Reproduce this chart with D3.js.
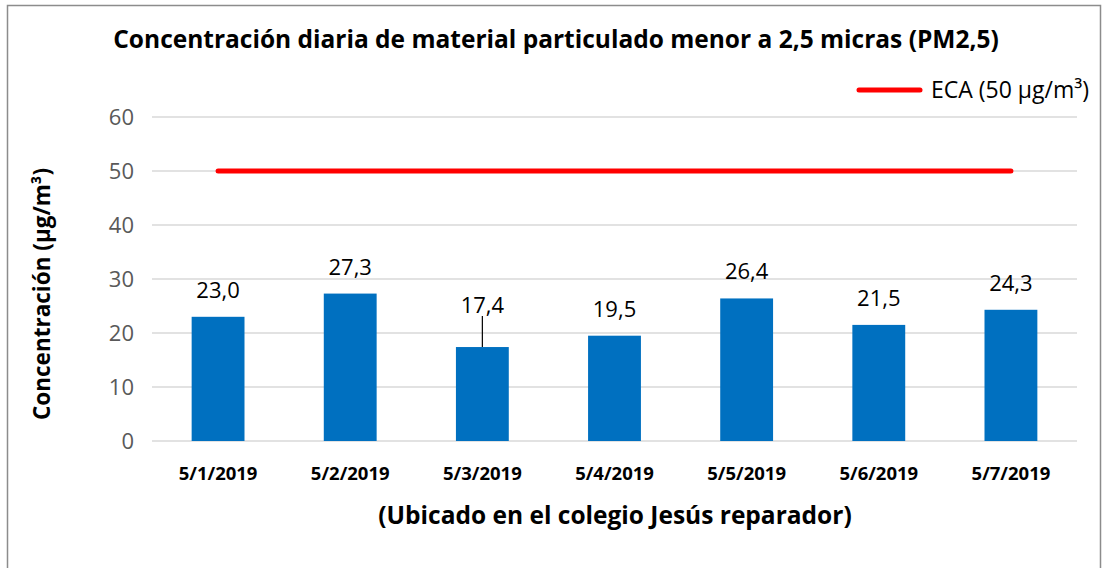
<!DOCTYPE html>
<html>
<head>
<meta charset="utf-8">
<script src="https://cdn.jsdelivr.net/npm/d3@7"></script>
<style>
  body { margin: 0; background: #fff; }
  svg { font-family: "Open Sans", "Noto Sans", sans-serif; }
</style>
</head>
<body>
<svg id="chart" width="1105" height="568"></svg>
<script>
// data
const dates = ["5/1/2019", "5/2/2019", "5/3/2019", "5/4/2019", "5/5/2019", "5/6/2019", "5/7/2019"];
const pm25 = [23.0, 27.3, 17.4, 19.5, 26.4, 21.5, 24.3];
const eca = [50, 50, 50, 50, 50, 50, 50];
const yTicks = [0, 10, 20, 30, 40, 50, 60];

const svg = d3.select("#chart");
const margin = { top: 117, left: 152, right: 28, bottom: 127 };
const width = 1105, height = 568;
const innerWidth = width - margin.left - margin.right;
const innerHeight = height - margin.top - margin.bottom;

// chart border (bottom edge is below the picture)
svg.append("path")
    .attr("d", "M7.5,568 V5.5 H1100.5 V568")
    .attr("fill", "none")
    .attr("stroke", "#8c8c8c")
    .attr("stroke-width", 1.5);

const g = svg.append("g").attr("transform", `translate(${margin.left}, ${margin.top})`);

const xScale = d3.scaleBand()
    .domain(dates)
    .range([0, innerWidth])
    .paddingInner(0.6)
    .paddingOuter(0.3);

const yScale = d3.scaleLinear()
    .domain([0, 60])
    .range([innerHeight, 0]);

// gridlines
g.append("g")
    .selectAll("line")
    .data(yTicks)
    .enter()
    .append("line")
    .attr("x1", 0).attr("x2", innerWidth)
    .attr("y1", d => yScale(d)).attr("y2", d => yScale(d))
    .attr("stroke", "#d9d9d9")
    .attr("stroke-width", 1.5);

// Y-axis labels
const yAxis = g.append("g")
    .call(d3.axisLeft(yScale).tickValues(yTicks).tickSize(0).tickPadding(18));
yAxis.attr("font-size", 22).attr("font-family", "Open Sans, sans-serif");
yAxis.select(".domain").remove();
yAxis.selectAll("text").attr("fill", "#595959");

// bars
g.selectAll("rect.bar")
    .data(pm25)
    .enter()
    .append("rect")
    .attr("class", "bar")
    .attr("x", (d, i) => xScale(dates[i]))
    .attr("y", d => yScale(d))
    .attr("width", xScale.bandwidth())
    .attr("height", d => innerHeight - yScale(d))
    .attr("fill", "#0070c0");

// data labels (17,4 was moved up in the original, with a leader line)
const labelLift = [0, 0, 15, 0, 0, 0, 0];
g.selectAll("line.leader")
    .data(pm25.filter((d, i) => labelLift[i] > 0))
    .enter()
    .append("line")
    .attr("class", "leader")
    .attr("x1", d => xScale(dates[pm25.indexOf(d)]) + xScale.bandwidth() / 2)
    .attr("x2", d => xScale(dates[pm25.indexOf(d)]) + xScale.bandwidth() / 2)
    .attr("y1", d => yScale(d))
    .attr("y2", d => yScale(d) - labelLift[pm25.indexOf(d)] - 16)
    .attr("stroke", "#000")
    .attr("stroke-width", 1.2);

g.selectAll("text.value")
    .data(pm25)
    .enter()
    .append("text")
    .attr("class", "value")
    .attr("x", (d, i) => xScale(dates[i]) + xScale.bandwidth() / 2)
    .attr("y", (d, i) => yScale(d) - 19 - labelLift[i])
    .attr("text-anchor", "middle")
    .style("font-size", "22px")
    .attr("fill", "#000")
    .text(d => d.toFixed(1).replace(".", ","));

// X-axis
const xAxis = g.append("g")
    .attr("transform", `translate(0,${innerHeight})`)
    .call(d3.axisBottom(xScale).tickSize(0).tickPadding(26));
xAxis.attr("font-size", 18.5).attr("font-family", "Open Sans, sans-serif").attr("font-weight", "bold");
xAxis.select(".domain").remove();
xAxis.selectAll("text").attr("fill", "#000");

// ECA line
const line = d3.line()
    .x((d, i) => xScale(dates[i]) + xScale.bandwidth() / 2)
    .y(d => yScale(d));
g.append("path")
    .datum(eca)
    .attr("d", line)
    .attr("fill", "none")
    .attr("stroke", "#ff0000")
    .attr("stroke-width", 5)
    .attr("stroke-linecap", "round");

// legend
svg.append("line")
    .attr("x1", 859).attr("x2", 920)
    .attr("y1", 90).attr("y2", 90)
    .attr("stroke", "#ff0000")
    .attr("stroke-width", 5)
    .attr("stroke-linecap", "round");
svg.append("text")
    .attr("x", 931).attr("y", 98)
    .style("font-size", "23px")
    .attr("fill", "#000")
    .text("ECA (50 µg/m³)");

// title
svg.append("text")
    .attr("x", 556).attr("y", 48)
    .attr("text-anchor", "middle")
    .style("font-size", "24.5px")
    .style("font-weight", "bold")
    .text("Concentración diaria de material particulado menor a 2,5 micras (PM2,5)");

// Axis-labels
svg.append("text")
    .attr("transform", "rotate(-90)")
    .attr("x", -294).attr("y", 50)
    .attr("text-anchor", "middle")
    .style("font-size", "22.5px")
    .style("font-weight", "bold")
    .text("Concentración (µg/m³)");

svg.append("text")
    .attr("x", 615).attr("y", 524)
    .attr("text-anchor", "middle")
    .style("font-size", "24.5px")
    .style("font-weight", "bold")
    .text("(Ubicado en el colegio Jesús reparador)");
</script>
</body>
</html>
